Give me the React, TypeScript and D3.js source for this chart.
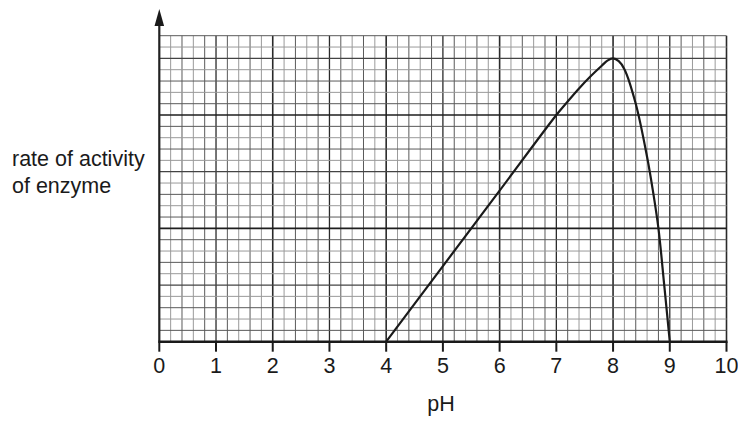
import * as d3 from "d3";
import React from "react";

// pH axis labels and the enzyme curve
const phTicks = [0, 1, 2, 3, 4, 5, 6, 7, 8, 9, 10];
const curvePh = [4, 5, 6, 7, 7.2, 7.4, 7.6, 7.8, 7.9, 8, 8.1, 8.2, 8.4, 8.6, 8.7, 8.8, 8.9, 9];
const curveRate = [0, 6.67, 13.33, 20, 21.2, 22.35, 23.4, 24.35, 24.8, 25, 24.75, 24.05, 21, 16.3, 13.4, 10, 5.1, 0];
const yLabelLines = ["rate of activity", "of enzyme"];
const xTitle = "pH";

const FONT = "'Liberation Sans', Arial, Helvetica, sans-serif";

export default function App() {
  const width = 738, height = 422;
  const x = d3.scaleLinear().domain([0, 10]).range([159.3, 726.5]);
  const y = d3.scaleLinear().domain([0, 27]).range([341.7, 35.7]);

  // graph paper: 5 small squares per pH unit, 27 rows
  const xMinor = d3.range(0, 51).map((i) => i / 5);
  const yMinor = d3.range(0, 28);

  const line = d3
    .line<number>()
    .x((_, i) => x(curvePh[i]))
    .y((d) => y(d))
    .curve(d3.curveCatmullRom.alpha(0.5));

  return (
    <svg
      width={width}
      height={height}
      style={{ position: "absolute", left: 0, top: 0, background: "#fff" }}
    >
      {/* vertical grid */}
      {xMinor.map((v, i) => {
        const major = i % 5 === 0;
        if (i === 0) return null;
        return (
          <line
            key={"vx" + i}
            x1={x(v)}
            x2={x(v)}
            y1={y(0)}
            y2={y(27)}
            stroke={major ? "#2a2a2a" : i % 2 ? "#9a9a9a" : "#5a5a5a"}
            strokeWidth={major ? (i % 10 === 0 ? 1.6 : 1.3) : 1}
          />
        );
      })}
      {/* horizontal grid */}
      {yMinor.map((v) => {
        if (v === 0) return null;
        const major = v % 10 === 0;
        const half = v % 5 === 0;
        return (
          <line
            key={"hy" + v}
            x1={x(0)}
            x2={x(10)}
            y1={y(v)}
            y2={y(v)}
            stroke={major ? "#1e1e1e" : half ? "#444" : v % 2 ? "#5a5a5a" : "#9a9a9a"}
            strokeWidth={major ? 1.6 : half ? 1.3 : 1}
          />
        );
      })}

      {/* y axis with arrow */}
      <line x1={x(0)} x2={x(0)} y1={y(0)} y2={24} stroke="#222" strokeWidth={2.2} />
      <polygon
        points={`${x(0)},9 ${x(0) - 4.8},26 ${x(0) + 4.8},26`}
        fill="#1a1a1a"
      />

      {/* x axis */}
      <line x1={x(0) - 1} x2={x(10) + 1} y1={y(0)} y2={y(0)} stroke="#1a1a1a" strokeWidth={2.6} />
      {phTicks.map((t) => (
        <g key={"t" + t}>
          <line x1={x(t)} x2={x(t)} y1={y(0)} y2={y(0) + 10} stroke="#1a1a1a" strokeWidth={2} />
          <text
            x={x(t)}
            y={373}
            textAnchor="middle"
            fontFamily={FONT}
            fontSize={21.5}
            fill="#1a1a1a"
          >
            {t}
          </text>
        </g>
      ))}

      {/* curve */}
      <path
        d={line(curveRate) || ""}
        fill="none"
        stroke="#1a1a1a"
        strokeWidth={2.2}
        strokeLinejoin="round"
      />

      {/* titles */}
      {yLabelLines.map((s, i) => (
        <text
          key={s}
          x={12}
          y={166 + i * 27}
          fontFamily={FONT}
          fontSize={21.5}
          fill="#1a1a1a"
        >
          {s}
        </text>
      ))}
      <text x={441} y={411} textAnchor="middle" fontFamily={FONT} fontSize={21.5} fill="#1a1a1a">
        {xTitle}
      </text>
    </svg>
  );
}
